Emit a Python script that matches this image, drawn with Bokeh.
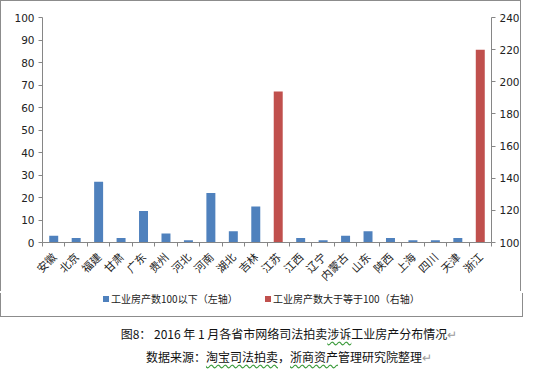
import math
from bokeh.plotting import figure
from bokeh.models import (ColumnDataSource, Range1d, LinearAxis, FixedTicker, Div)
from bokeh.layouts import column
from bokeh.embed import file_html
from bokeh.resources import INLINE

provinces = ["安徽", "北京", "福建", "甘肃", "广东", "贵州", "河北", "河南", "湖北", "吉林",
             "江苏", "江西", "辽宁", "内蒙古", "山东", "陕西", "上海", "四川", "天津", "浙江"]
below_100 = [3, 2, 27, 2, 14, 4, 1, 22, 5, 16, None, 2, 1, 3, 5, 2, 1, 1, 2, None]
at_least_100 = [None, None, None, None, None, None, None, None, None, None,
                194, None, None, None, None, None, None, None, None, 220]
left_ticks = [0, 10, 20, 30, 40, 50, 60, 70, 80, 90, 100]
right_ticks = [100, 120, 140, 160, 180, 200, 220, 240]
series_names = ["工业房产数100以下（左轴）", "工业房产数大于等于100（右轴）"]
caption_1 = "图8：  2016 年 1 月各省市网络司法拍卖涉诉工业房产分布情况"
caption_2 = "数据来源：淘宝司法拍卖，浙商资产管理研究院整理"

BLUE = "#4F81BD"
RED = "#C0504D"
AXIS = "#868686"
BORDER = "1px solid #8c8c8c"
FONT_NUM = "DejaVu Sans"
FONT_CJK = "Noto Sans CJK SC"

n = len(provinces)
centers = [i + 0.5 for i in range(n)]

src_small = ColumnDataSource(dict(
    x=[c for c, v in zip(centers, below_100) if v is not None],
    top=[v for v in below_100 if v is not None]))
src_large = ColumnDataSource(dict(
    x=[c for c, v in zip(centers, at_least_100) if v is not None],
    top=[v for v in at_least_100 if v is not None]))

p = figure(width=521, height=291, x_range=Range1d(0, n),
           y_range=Range1d(left_ticks[0], left_ticks[-1]),
           output_backend="svg", toolbar_location=None,
           x_axis_location=None, y_axis_location=None,
           min_border_left=41, min_border_right=28, min_border_top=16, min_border_bottom=50,
           margin=0)
p.extra_y_ranges = {"right": Range1d(right_ticks[0], right_ticks[-1])}
p.outline_line_color = None
p.xgrid.visible = False
p.ygrid.visible = False
p.styles = {"border-top": BORDER, "border-left": BORDER, "border-right": BORDER}

p.vbar(x="x", top="top", bottom=0, width=0.4, source=src_small,
       fill_color=BLUE, line_color=None)
p.vbar(x="x", top="top", bottom=right_ticks[0], width=0.4, source=src_large,
       fill_color=RED, line_color=None, y_range_name="right")


def style_num_axis(ax):
    ax.axis_line_color = AXIS
    ax.major_tick_line_color = AXIS
    ax.major_tick_in = 0
    ax.major_tick_out = 4
    ax.minor_tick_line_color = None
    ax.major_label_text_font = FONT_NUM
    ax.major_label_text_font_size = "10.5px"
    ax.major_label_text_color = "#222222"
    ax.major_label_standoff = 4


left = LinearAxis(ticker=FixedTicker(ticks=left_ticks))
style_num_axis(left)
p.add_layout(left, "left")

right = LinearAxis(y_range_name="right", ticker=FixedTicker(ticks=right_ticks))
style_num_axis(right)
p.add_layout(right, "right")

slot_axis = LinearAxis(ticker=FixedTicker(ticks=list(range(n + 1))),
                       major_label_overrides={i: "" for i in range(n + 1)})
slot_axis.axis_line_color = AXIS
slot_axis.major_tick_line_color = AXIS
slot_axis.major_tick_in = 0
slot_axis.major_tick_out = 4
slot_axis.minor_tick_line_color = None
slot_axis.major_label_standoff = 0
p.add_layout(slot_axis, "below")

cat_axis = LinearAxis(ticker=FixedTicker(ticks=centers),
                      major_label_overrides={c: name for c, name in zip(centers, provinces)})
cat_axis.axis_line_color = None
cat_axis.major_tick_line_color = None
cat_axis.minor_tick_line_color = None
cat_axis.major_label_orientation = math.pi / 4
cat_axis.major_label_text_font = FONT_CJK
cat_axis.major_label_text_font_size = "11px"
cat_axis.major_label_text_color = "#222222"
cat_axis.major_label_standoff = 2
p.add_layout(cat_axis, "below")

sq = "display:inline-block;width:6px;height:6px;margin-right:2px;vertical-align:1px;"
legend_html = (
    f'<div style="width:523px;height:24px;box-sizing:border-box;'
    f'border-left:{BORDER};border-right:{BORDER};border-bottom:{BORDER};'
    f'padding-left:102px;padding-top:0px;line-height:12px;white-space:nowrap;'
    f'font-family:{FONT_CJK};font-size:10px;color:#222222;">'
    f'<span style="display:inline-block;width:162px;">'
    f'<span style="{sq}background:{BLUE};"></span>{series_names[0]}</span>'
    f'<span><span style="{sq}background:{RED};"></span>{series_names[1]}</span>'
    f'</div>'
)
legend_div = Div(text=legend_html, width=523, height=24, margin=0)

wavy = "text-decoration: underline wavy #3a9a3a; text-underline-offset: 2px;"
html = (
    f'<div style="width:534px;box-sizing:border-box;padding-left:44px;padding-top:7px;'
    f'text-align:center;font-family:{FONT_CJK};font-size:12px;color:#111111;">'
    f'<div style="line-height:23px;">'
    f'{caption_1[:24]}<span style="{wavy}">{caption_1[24:26]}</span>{caption_1[26:]}'
    f'<span style="color:#9a9a9a">↵</span></div>'
    f'<div style="line-height:23px;">'
    f'{caption_2[:5]}<span style="{wavy}">{caption_2[5:11]}</span>{caption_2[11:12]}'
    f'<span style="{wavy}">{caption_2[12:16]}</span>{caption_2[16:]}'
    f'<span style="color:#9a9a9a">↵</span></div>'
    f'</div>'
)
caption = Div(text=html, width=534, height=53, margin=0)

layout = column(p, legend_div, caption, spacing=0)
open("out.html", "w").write(file_html(layout, INLINE))
